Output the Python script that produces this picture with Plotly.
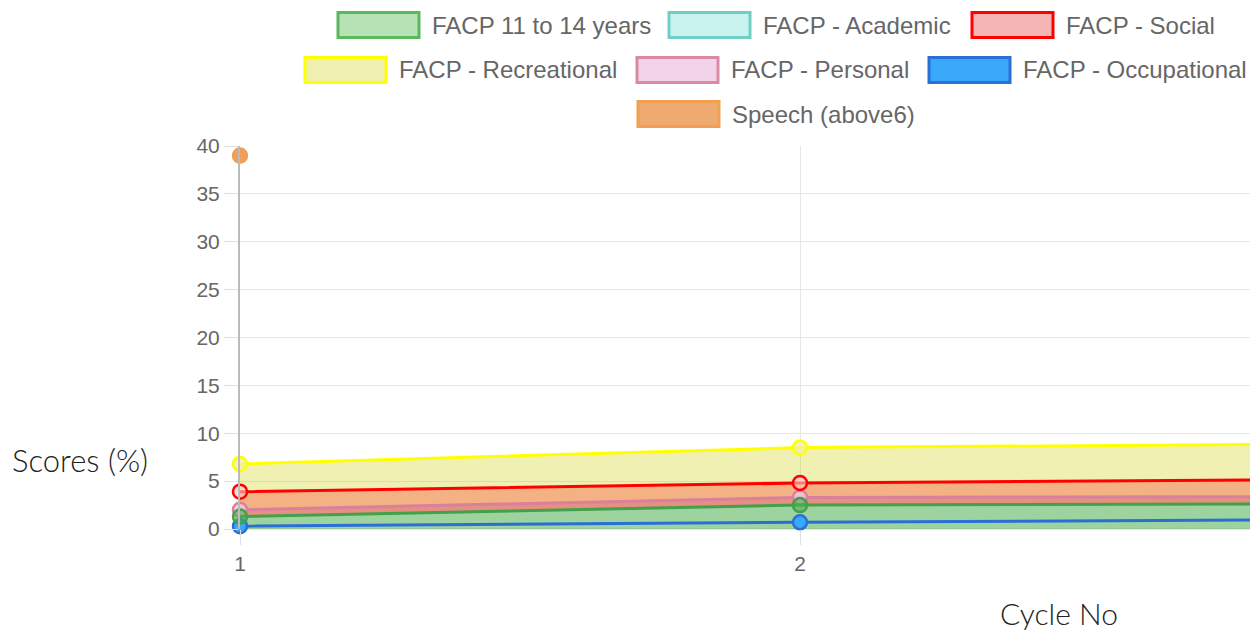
import plotly.graph_objects as go

# ---- data ----
cycles = [1, 2, 3]
facp_11_14 = [1.3, 2.5, 2.65]
facp_academic = [None, None, None]
facp_social = [3.9, 4.8, 5.2]
facp_recreational = [6.8, 8.5, 8.9]
facp_personal = [2.0, 3.3, 3.4]
facp_occupational = [0.3, 0.7, 1.0]
speech_above6 = [39, None, None]

series_names = ["FACP 11 to 14 years", "FACP - Academic", "FACP - Social",
                "FACP - Recreational", "FACP - Personal", "FACP - Occupational",
                "Speech (above6)"]
series_values = [facp_11_14, facp_academic, facp_social, facp_recreational,
                 facp_personal, facp_occupational, speech_above6]
line_colors = ["#43a04b", "#6fcfc4", "#ff0000", "#ffff00", "#d9809c", "#2a6fd6", "#f0a050"]
fill_colors = ["rgba(76,175,80,0.55)", "rgba(150,235,225,0.5)", "rgba(255,0,0,0.26)",
               "rgba(204,204,0,0.3)", "rgba(200,80,120,0.35)", "rgba(30,150,250,0.9)",
               "rgba(230,130,50,0.7)"]
marker_fill = ["rgba(76,175,80,0.6)", "rgba(150,235,225,0.5)", "rgba(255,200,200,0.6)",
               "rgba(240,240,170,0.8)", "rgba(240,200,225,0.8)", "#3aa8f8", "#eea060"]

W, H = 1250, 634
L, R, T, B = 240, 0, 146, 105
PW, PH = W - L - R, H - T - B
x_px_per_unit = 560
x_range = [1, 1 + PW / x_px_per_unit]

def px2x(px):
    return (px - L) / PW

def py2y(py):
    return (H - B - py) / PH

fig = go.Figure()

# ---- fills (drawn beneath all lines, like Chart.js filler) ----
for idx in [3, 2, 4]:  # recreational, social, personal fill down to the 11-14 line
    fig.add_trace(go.Scatter(x=cycles, y=facp_11_14, mode="lines",
                             line=dict(width=0, color="rgba(0,0,0,0)"),
                             showlegend=False, hoverinfo="skip"))
    fig.add_trace(go.Scatter(x=cycles, y=series_values[idx], mode="lines", fill="tonexty",
                             line=dict(width=0, color="rgba(0,0,0,0)"),
                             fillcolor=fill_colors[idx], showlegend=False, hoverinfo="skip"))
fig.add_trace(go.Scatter(x=cycles, y=facp_11_14, mode="lines", fill="tozeroy",
                         line=dict(width=0, color="rgba(0,0,0,0)"),
                         fillcolor=fill_colors[0], showlegend=False, hoverinfo="skip"))

# ---- lines + points; first dataset on top ----
for i in reversed(range(len(series_names))):
    fig.add_trace(go.Scatter(
        x=cycles, y=series_values[i], name=series_names[i],
        mode="lines+markers",
        line=dict(color=line_colors[i], width=3),
        marker=dict(size=14, color=marker_fill[i], line=dict(color=line_colors[i], width=2.5)),
        showlegend=False, cliponaxis=False,
    ))

# ---- custom Chart.js style legend ----
legend_boxes = [(338, 25), (669, 25), (972, 25), (305, 70), (637, 70), (929, 70), (638, 114)]
legend_box_fill = ["#b6e2b6", "#c9f3ee", "#f5b5b5", "#efefb0", "#f3d3ea", "#3aa8f8", "#eeaa70"]
legend_box_border = ["#5cb85c", "#70cfc3", "#ff0000", "#ffff00", "#d98aa5", "#2a6fd6", "#f0a050"]
bw, bh = 81, 25
for i, (bx, by) in enumerate(legend_boxes):
    fig.add_shape(type="rect", xref="paper", yref="paper",
                  x0=px2x(bx), x1=px2x(bx + bw), y0=py2y(by + bh / 2), y1=py2y(by - bh / 2),
                  fillcolor=legend_box_fill[i], line=dict(color=legend_box_border[i], width=3),
                  layer="above")
    fig.add_annotation(x=px2x(bx + bw + 11), y=py2y(by), xref="paper", yref="paper",
                       text=series_names[i], showarrow=False, xanchor="left", yanchor="middle",
                       font=dict(family="Liberation Sans, Arial", size=24, color="#666666"))

# axis titles
fig.add_annotation(x=px2x(10), y=py2y(460), xref="paper", yref="paper", text="Scores (%)",
                   showarrow=False, xanchor="left", yanchor="middle",
                   font=dict(family="Lato, Open Sans", size=31, color="#222222", weight=300))
fig.add_annotation(x=px2x(998), y=py2y(613), xref="paper", yref="paper", text="Cycle No",
                   showarrow=False, xanchor="left", yanchor="middle",
                   font=dict(family="Lato, Open Sans", size=30, color="#222222", weight=300))

fig.update_layout(
    width=W, height=H, margin=dict(l=L, r=R, t=T, b=B),
    paper_bgcolor="white", plot_bgcolor="white", showlegend=False,
    xaxis=dict(range=x_range, tickvals=[1, 2], ticktext=["1", "2"], showgrid=True,
               gridcolor="#e6e6e6", gridwidth=1, ticks="outside", ticklen=15,
               tickcolor="#e0e0e0", zeroline=False, showline=False,
               tickfont=dict(family="Liberation Sans, Arial", size=21, color="#666666"),
               ticklabelstandoff=1),
    yaxis=dict(range=[0, 40], dtick=5, showgrid=True, gridcolor="#e6e6e6", gridwidth=1,
               ticks="outside", ticklen=14, tickcolor="#e0e0e0", zeroline=True,
               zerolinecolor="#e6e6e6", showline=True, linecolor="#bbbbbb", linewidth=2,
               tickfont=dict(family="Liberation Sans, Arial", size=21, color="#666666"),
               ticklabelstandoff=0),
)

fig.write_html("out.html", config={"displayModeBar": False},
               post_script="document.body.style.margin='0';document.body.style.overflow='hidden';")
